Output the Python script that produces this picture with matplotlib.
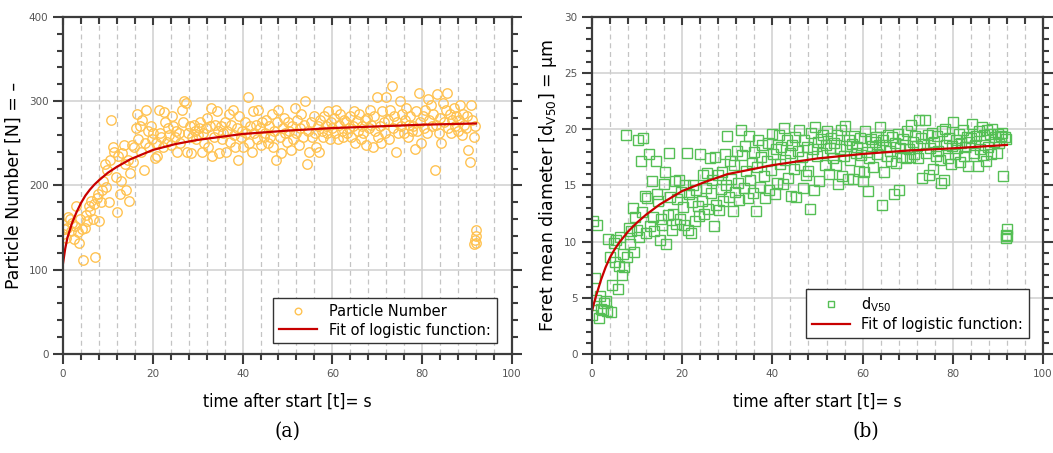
import matplotlib.pyplot as plt
import numpy as np
from matplotlib.ticker import MultipleLocator

# sampling step of the measurements (s)
dt = 0.3

# (a) particle number, one value every dt seconds from t = 0
particles = [
    142, 148, 138, 150, 163, 160, 146, 155, 137, 152,
    175, 145, 132, 160, 148, 112, 150, 165, 158, 175,
    170, 182, 160, 178, 115, 185, 190, 158, 180, 195,
    205, 225, 198, 218, 180, 230, 278, 245, 240, 210,
    168, 235, 190, 205, 238, 248, 225, 195, 230, 182,
    215, 248, 228, 245, 268, 285, 255, 270, 240, 278,
    218, 250, 290, 265, 245, 270, 255, 262, 232, 250,
    235, 289, 262, 258, 245, 287, 275, 252, 268, 260,
    248, 282, 270, 258, 265, 240, 262, 250, 290, 275,
    300, 298, 240, 262, 270, 238, 258, 272, 265, 255,
    260, 268, 275, 240, 262, 250, 268, 280, 245, 270,
    292, 235, 258, 272, 288, 265, 238, 270, 255, 262,
    275, 240, 265, 285, 252, 272, 290, 260, 246, 268,
    230, 282, 258, 265, 245, 275, 262, 305, 250, 270,
    240, 288, 262, 272, 255, 290, 268, 248, 275, 258,
    262, 278, 250, 270, 258, 285, 245, 265, 230, 275,
    290, 258, 238, 268, 280, 262, 252, 275, 265, 242,
    270, 255, 292, 262, 278, 248, 268, 285, 258, 272,
    300, 225, 265, 240, 275, 258, 282, 262, 245, 270,
    240, 278, 265, 258, 282, 270, 262, 288, 255, 275,
    268, 280, 262, 290, 255, 272, 285, 265, 258, 278,
    275, 262, 268, 282, 258, 270, 288, 250, 276, 265,
    285, 255, 270, 262, 278, 248, 280, 268, 290, 272,
    245, 282, 265, 305, 258, 270, 250, 288, 275, 262,
    305, 278, 255, 290, 318, 268, 282, 240, 275, 262,
    300, 270, 285, 262, 278, 292, 258, 272, 282, 265,
    270, 243, 288, 265, 310, 275, 250, 282, 268, 290,
    262, 302, 278, 295, 270, 285, 218, 272, 308, 262,
    280, 250, 298, 275, 290, 310, 268, 285, 262, 278,
    292, 270, 282, 265, 278, 295, 260, 285, 272, 268,
    282, 242, 228, 295, 278, 258, 270,
]
tail_t_a = [91.6, 91.8, 91.9, 92.0, 92.1]
tail_a = [130, 135, 140, 147, 132]

# (b) dV50, one value every dt seconds from t = 0
dv50 = [
    3.5, 11.8, 6.8, 4.8, 11.5, 3.2, 5.2, 4.0, 3.9, 4.5,
    4.7, 3.8, 10.2, 8.6, 3.7, 6.1, 9.9, 8.2, 10.1, 5.8,
    7.8, 10.4, 7.0, 8.9, 7.7, 19.5, 8.6, 11.2, 9.8, 10.9,
    13.0, 9.1, 12.2, 11.0, 19.0, 10.4, 17.2, 12.6, 19.2, 14.1,
    10.8, 13.9, 17.8, 11.4, 15.4, 12.2, 10.9, 17.2, 14.2, 13.6,
    10.1, 12.0, 11.5, 15.1, 16.2, 9.8, 12.4, 17.9, 14.0, 11.0,
    12.5, 15.4, 11.6, 13.8, 15.5, 12.0, 14.4, 13.1, 11.5, 15.0,
    17.9, 11.0, 14.2, 10.8, 13.5, 15.0, 11.8, 14.6, 13.2, 12.3,
    17.8, 13.6, 15.9, 12.5, 14.8, 16.1, 12.9, 17.4, 14.3, 15.5,
    11.4, 17.5, 13.3, 15.9, 12.8, 14.7, 16.2, 13.6, 17.8, 15.0,
    19.4, 14.0, 17.2, 15.6, 12.7, 16.8, 14.4, 18.1, 15.2, 13.7,
    19.9, 17.7, 14.8, 18.5, 16.3, 13.9, 19.4, 15.5, 17.0, 14.3,
    18.0, 12.7, 16.6, 19.0, 14.9, 17.5, 18.6, 15.8, 13.9, 17.2,
    18.8, 14.6, 16.4, 19.6, 17.8, 14.2, 18.2, 15.2, 19.5, 16.9,
    18.4, 15.1, 20.1, 17.3, 19.0, 15.7, 17.9, 14.1, 18.6, 16.5,
    19.3, 14.0, 18.1, 19.9, 16.8, 17.5, 14.8, 19.0, 15.9, 18.4,
    16.3, 12.9, 19.7, 18.2, 14.6, 20.2, 17.6, 18.9, 15.4, 19.1,
    17.9, 19.5, 16.8, 18.6, 19.8, 16.0, 18.3, 19.2, 17.4, 18.8,
    16.8, 19.5, 15.1, 18.2, 19.9, 15.8, 17.6, 20.3, 18.5, 15.6,
    19.0, 17.3, 18.7, 15.6, 19.4, 17.9, 18.4, 16.3, 19.2, 17.7,
    15.4, 16.2, 19.8, 18.0, 14.5, 17.4, 19.1, 18.5, 16.6, 18.9,
    19.3, 17.8, 18.6, 20.2, 13.3, 19.0, 16.2, 18.4, 17.6, 19.5,
    18.1, 17.2, 19.3, 14.2, 18.8, 17.0, 19.6, 14.6, 18.3, 17.5,
    19.1, 18.6, 17.4, 19.8, 18.2, 17.5, 20.4, 18.9, 17.8, 19.4,
    18.5, 17.4, 20.8, 19.2, 15.7, 18.7, 20.8, 17.9, 19.5, 15.9,
    18.3, 19.7, 16.5, 18.9, 17.6, 19.4, 18.1, 17.3, 15.2, 19.8,
    15.5, 20.0, 18.6, 17.4, 19.2, 16.9, 18.5, 20.6, 17.8, 19.0,
    18.3, 19.6, 17.1, 18.8, 19.9, 17.6, 18.4, 19.3, 16.7, 18.9,
    19.2, 20.5, 17.9, 18.6, 19.4, 16.7, 19.8, 18.2, 20.2, 17.7,
    19.5, 17.2, 19.9, 18.4, 19.6, 17.8, 20.0, 18.9, 19.3, 17.9,
    19.6, 18.8, 19.4, 19.7, 15.8, 19.3, 19.1,
]
tail_t_b = [91.7, 91.8, 92.0, 92.1]
tail_b = [10.3, 10.6, 11.1, 10.5]

fit_t = [0, 0.5, 1, 2, 3, 4, 5, 6, 7, 8, 10, 12, 15, 20, 25, 30, 40, 50, 60, 70, 80, 92]
fit_a = [107, 125, 138, 155, 168, 179, 188, 195, 201, 206, 215, 222, 231, 242, 249,
         254, 261, 265, 268, 270, 272, 273.5]
fit_b = [3.8, 4.6, 5.3, 6.6, 7.7, 8.6, 9.3, 9.9, 10.4, 10.9, 11.7, 12.4, 13.3, 14.5,
         15.3, 16.0, 16.8, 17.4, 17.8, 18.1, 18.3, 18.6]

t_a = np.arange(len(particles)) * dt
t_b = np.arange(len(dv50)) * dt

fig = plt.figure(figsize=(10.53, 4.53), dpi=100)
ax1 = fig.add_axes([0.0598, 0.2185, 0.4264, 0.7444])
ax2 = fig.add_axes([0.5622, 0.2185, 0.4283, 0.7444])

frame = '#3c3c3c'

def style(ax, ymax, ymajor, yminor):
    ax.set_xlim(0, 100)
    ax.set_ylim(0, ymax)
    ax.xaxis.set_major_locator(MultipleLocator(20))
    ax.xaxis.set_minor_locator(MultipleLocator(4))
    ax.yaxis.set_major_locator(MultipleLocator(ymajor))
    ax.yaxis.set_minor_locator(MultipleLocator(yminor))
    ax.xaxis.grid(True, which='major', color='#cfcfcf', lw=1.1, ls='-')
    ax.yaxis.grid(True, which='major', color='#cfcfcf', lw=1.1, ls='-')
    ax.xaxis.grid(True, which='minor', color='#c4c4c4', lw=0.9, ls=(0, (4, 3)))
    for s in ax.spines.values():
        s.set_color(frame)
        s.set_linewidth(1.6)
        s.set_zorder(4)
    ax.tick_params(which='both', direction='out', color=frame, width=1.5,
                   bottom=True, left=True, top=False, right=True,
                   labelsize=7.5, labelcolor='#555555')
    ax.tick_params(which='major', length=7)
    ax.tick_params(which='minor', length=4)
    # top ticks hang inside the frame
    top = ax.twiny()
    top.set_xlim(0, 100)
    top.xaxis.set_major_locator(MultipleLocator(20))
    top.xaxis.set_minor_locator(MultipleLocator(4))
    top.tick_params(which='both', direction='in', color=frame, width=1.5,
                    labeltop=False)
    top.tick_params(which='major', length=6)
    top.tick_params(which='minor', length=5)
    for s in top.spines.values():
        s.set_visible(False)
    ax.set_xlabel('time after start [t]= s', fontsize=12.5, family='DejaVu Sans',
                  stretch='condensed', labelpad=10)

style(ax1, 400, 100, 20)
style(ax2, 30, 5, 1)

orange = '#ffc352'
green = '#55bf55'
fitred = '#c80000'

ax1.plot(t_a, particles, 'o', ms=6.8, mfc='none', mec=orange, mew=1.0,
         label='Particle Number')
ax1.plot(tail_t_a, tail_a, 'o', ms=6.8, mfc='none', mec=orange, mew=1.0)
ax1.plot(fit_t, fit_a, '-', color=fitred, lw=1.6, label='Fit of logistic function:')
ax1.set_ylabel('Particle Number [N] = \u2013', fontsize=12.5, labelpad=4)

ax2.plot(t_b, dv50, 's', ms=6.5, mfc='none', mec=green, mew=1.0,
         label='d$_{\\mathrm{V50}}$')
ax2.plot(tail_t_b, tail_b, 's', ms=6.5, mfc='none', mec=green, mew=1.0)
ax2.plot(fit_t, fit_b, '-', color=fitred, lw=1.6, label='Fit of logistic function:')
ax2.set_ylabel('Feret mean diameter [d$_{\\mathrm{V50}}$] = \u03bcm', fontsize=12.5, labelpad=4)

for ax, anchor in ((ax1, (0.982, 0.01)), (ax2, (0.985, 0.025))):
    leg = ax.legend(loc='lower right', bbox_to_anchor=anchor, fontsize=10.5,
                    fancybox=False, framealpha=1, edgecolor='#333333',
                    handlelength=2.6, borderpad=0.4, labelspacing=0.25,
                    markerscale=0.7)
    leg.get_frame().set_linewidth(1.0)

fig.text(0.2735, 0.035, '(a)', fontsize=15, family='DejaVu Serif', stretch='condensed',
         ha='center')
fig.text(0.8225, 0.035, '(b)', fontsize=15, family='DejaVu Serif', stretch='condensed',
         ha='center')

fig.savefig('out.png', dpi=100)
